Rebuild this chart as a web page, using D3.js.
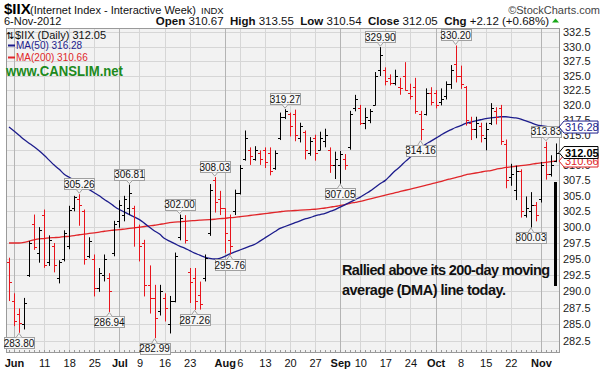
<!DOCTYPE html>
<html><head><meta charset="utf-8">
<script src="https://cdn.jsdelivr.net/npm/d3@7"></script>
<style>
body{margin:0;background:#fff;}
svg text{font-family:"Liberation Sans",Arial,sans-serif;}
</style>
</head><body>
<svg id="chart" width="605" height="375"></svg>
<script>
// ---------------- DATA ----------------
const dates = ["2012-05-31",
"2012-06-01","2012-06-04","2012-06-05","2012-06-06","2012-06-07","2012-06-08","2012-06-11","2012-06-12","2012-06-13","2012-06-14","2012-06-15","2012-06-18","2012-06-19","2012-06-20","2012-06-21","2012-06-22","2012-06-25","2012-06-26","2012-06-27","2012-06-28","2012-06-29",
"2012-07-02","2012-07-03","2012-07-05","2012-07-06","2012-07-09","2012-07-10","2012-07-11","2012-07-12","2012-07-13","2012-07-16","2012-07-17","2012-07-18","2012-07-19","2012-07-20","2012-07-23","2012-07-24","2012-07-25","2012-07-26","2012-07-27","2012-07-30","2012-07-31",
"2012-08-01","2012-08-02","2012-08-03","2012-08-06","2012-08-07","2012-08-08","2012-08-09","2012-08-10","2012-08-13","2012-08-14","2012-08-15","2012-08-16","2012-08-17","2012-08-20","2012-08-21","2012-08-22","2012-08-23","2012-08-24","2012-08-27","2012-08-28","2012-08-29","2012-08-30","2012-08-31",
"2012-09-04","2012-09-05","2012-09-06","2012-09-07","2012-09-10","2012-09-11","2012-09-12","2012-09-13","2012-09-14","2012-09-17","2012-09-18","2012-09-19","2012-09-20","2012-09-21","2012-09-24","2012-09-25","2012-09-26","2012-09-27","2012-09-28",
"2012-10-01","2012-10-02","2012-10-03","2012-10-04","2012-10-05","2012-10-08","2012-10-09","2012-10-10","2012-10-11","2012-10-12","2012-10-15","2012-10-16","2012-10-17","2012-10-18","2012-10-19","2012-10-22","2012-10-23","2012-10-24","2012-10-25","2012-10-26","2012-10-31",
"2012-11-01","2012-11-02","2012-11-05","2012-11-06"];

const opens = [294.5,
288.5,286.5,285.0,292.5,300.5,296.0,302.0,294.5,297.0,292.0,295.0,297.0,303.0,304.5,302.5,295.5,295.0,290.5,292.5,292.0,296.0,
301.0,302.0,303.0,303.0,300.0,297.5,291.0,289.0,287.0,289.0,285.0,288.5,298.5,301.0,293.0,292.0,289.5,292.0,299.0,307.5,304.5,
303.0,298.0,302.5,305.5,311.0,312.5,311.0,312.0,312.5,312.0,309.5,314.5,318.0,318.5,318.5,314.5,315.5,312.0,314.5,312.5,314.0,312.5,310.0,
310.0,311.0,313.0,319.5,319.5,317.0,317.5,320.0,326.0,326.0,324.5,323.8,323.0,325.0,322.0,323.0,318.5,318.5,322.0,
322.0,320.5,321.5,323.5,327.0,325.0,323.0,317.0,316.0,316.5,314.5,317.0,319.0,319.5,313.5,308.0,306.0,309.0,302.0,302.5,303.5,
304.5,313.0,308.5,310.67];
const highs = [295.2,
289.7,287.4,289.0,297.8,302.0,300.0,302.8,298.7,297.5,294.8,299.5,303.4,305.0,305.26,302.8,298.4,295.7,293.6,295.7,292.8,301.0,
304.3,305.0,306.81,303.4,300.4,298.0,294.0,291.0,291.0,289.7,289.3,296.0,302.0,301.9,293.6,293.6,291.5,295.7,306.9,308.03,305.8,
303.0,302.0,306.0,310.0,315.7,312.9,313.1,312.4,312.9,312.9,312.4,318.7,319.27,318.7,319.2,317.0,315.7,314.6,315.0,315.5,316.0,312.9,312.2,
312.3,311.8,319.0,321.7,320.0,319.5,319.3,325.6,329.9,326.4,325.2,326.0,324.6,327.3,323.6,324.6,319.0,322.8,323.0,
322.5,322.8,324.0,326.8,330.2,326.7,323.2,318.0,318.0,317.0,317.0,320.3,319.6,320.0,314.2,310.2,309.9,309.3,304.9,305.6,304.0,
310.5,313.83,311.6,313.55];
const lows = [288.6,
284.8,283.8,284.3,292.3,296.5,294.5,293.7,294.0,293.0,291.3,294.7,296.6,302.6,300.3,294.2,295.2,289.3,290.0,291.6,286.94,295.5,
300.0,301.0,302.0,297.0,294.7,289.3,286.7,282.99,286.4,285.5,283.7,288.4,298.0,297.5,288.3,287.26,287.3,291.6,298.7,302.4,302.0,
296.0,295.76,302.0,305.3,310.8,310.1,310.8,310.1,309.6,308.4,309.3,314.2,317.7,314.8,314.0,313.8,311.0,311.6,310.8,312.5,313.0,308.8,307.8,
307.05,309.3,312.6,319.0,316.7,316.0,317.0,320.0,325.0,323.4,323.4,323.4,321.8,322.5,321.0,318.6,314.16,318.3,320.0,
319.5,320.0,321.0,322.8,323.9,322.8,316.6,314.2,314.5,313.8,312.5,316.7,316.8,313.4,306.3,306.7,304.4,301.6,301.6,300.03,301.0,
304.0,307.7,308.2,310.54];
const closes = [291.5,
285.5,285.2,288.3,297.5,296.9,299.6,294.0,298.0,294.0,294.5,299.0,302.8,304.8,303.5,295.0,297.8,290.5,292.8,295.0,290.0,300.5,
303.5,304.5,305.5,300.0,297.0,291.0,289.0,286.0,290.0,287.5,288.5,295.5,301.5,298.0,291.5,288.5,288.0,295.2,306.0,304.0,303.0,
299.0,297.0,305.5,309.5,314.5,311.5,312.5,311.0,310.5,309.0,312.0,318.0,319.0,316.5,315.0,316.5,312.5,314.0,312.0,314.5,315.0,310.0,311.0,
311.8,310.0,318.5,321.0,317.0,318.0,319.0,325.0,328.5,324.0,323.8,325.0,322.8,322.6,321.5,319.0,316.0,322.0,320.5,
320.0,321.0,323.5,326.0,325.0,323.5,317.5,316.0,317.0,315.0,316.0,319.5,318.0,314.0,307.5,308.5,309.0,302.5,303.0,303.5,302.0,
310.0,308.5,309.93,312.05];
const closeBeforeFirst = 296.0;

const ma50 = [316.3,
315.6,314.9,314.2,313.6,313.0,312.35,311.6,310.8,310.0,309.3,308.5,308.0,307.5,307.0,306.5,306.0,305.5,305.0,304.4,303.9,303.3,
302.8,302.4,302.0,301.6,301.2,300.6,300.0,299.4,298.9,298.2,297.8,297.4,297.0,296.7,296.3,295.9,295.6,295.3,295.1,295.0,295.1,
295.4,295.8,296.1,296.4,296.7,297.0,297.3,297.8,298.3,298.8,299.3,299.8,300.1,300.4,300.7,301.0,301.3,301.5,301.8,302.0,302.2,302.5,302.8,
303.2,303.6,304.0,304.4,304.8,305.3,305.8,306.4,307.0,307.5,308.3,309.1,309.8,310.6,311.3,312.0,312.7,313.4,313.9,
314.4,314.9,315.4,315.8,316.2,316.5,316.9,317.1,317.3,317.5,317.7,317.8,317.9,318.0,318.0,317.9,317.8,317.6,317.3,317.0,316.7,
316.5,316.4,316.3,316.28];
const ma200 = [297.5,
297.5,297.5,297.6,297.8,298.0,298.15,298.2,298.3,298.35,298.4,298.5,298.55,298.65,298.8,298.9,299.0,299.1,299.2,299.35,299.45,299.55,
299.6,299.7,299.8,299.9,300.0,300.1,300.2,300.3,300.45,300.55,300.7,300.8,300.85,300.9,301.0,301.05,301.1,301.15,301.2,301.25,301.35,
301.4,301.5,301.55,301.65,301.75,301.85,301.95,302.05,302.15,302.25,302.35,302.45,302.55,302.6,302.65,302.7,302.75,302.8,302.85,302.95,303.05,303.2,303.3,
303.45,303.6,303.8,303.95,304.1,304.3,304.5,304.7,304.9,305.1,305.3,305.5,305.7,305.9,306.1,306.3,306.5,306.7,306.9,
307.1,307.3,307.55,307.75,307.95,308.15,308.4,308.55,308.7,308.85,309.0,309.1,309.3,309.45,309.6,309.7,309.8,309.9,310.0,310.1,310.25,
310.35,310.45,310.55,310.66];

const yTickValues = [282.5,285.0,287.5,290.0,292.5,295.0,297.5,300.0,302.5,305.0,307.5,310.0,312.5,315.0,317.5,320.0,322.5,325.0,327.5,330.0,332.5];
const xTickDates  = ["2012-06-01","2012-06-11","2012-06-18","2012-06-25","2012-07-02","2012-07-09","2012-07-16","2012-07-23","2012-08-01","2012-08-06","2012-08-13","2012-08-20","2012-08-27","2012-09-04","2012-09-10","2012-09-17","2012-09-24","2012-10-01","2012-10-08","2012-10-15","2012-10-22","2012-11-01"];
const xTickLabels = ["Jun","11","18","25","Jul","9","16","23","Aug","6","13","20","27","Sep","10","17","24","Oct","8","15","22","Nov"];

const calloutDates = ["2012-06-04","2012-06-20","2012-06-28","2012-07-05","2012-07-12","2012-07-19","2012-07-24","2012-07-30","2012-08-02","2012-08-17","2012-09-04","2012-09-14","2012-09-26","2012-10-05","2012-10-26","2012-11-02"];
const calloutKinds = ["low","high","low","high","low","high","low","high","low","high","low","high","low","high","low","high"];

const lastClose = 312.05, lastMA50 = 316.28, lastMA200 = 310.66;

// ---------------- CHART ----------------
const svg = d3.select("#chart");
const W = 605, H = 375;
const plot = {left: 6, top: 28, right: 560, bottom: 353};
const RED = "#e8141c", NAVY = "#1c1c8c", MA_RED = "#e0262a";

const x = d3.scalePoint().domain(dates).range([9, 556]);
const y = d3.scaleLog().domain([282.5, 332.5]).range([341, 32.3]);
const px = v => Math.round(v) + 0.5;

svg.append("rect").attr("width", W).attr("height", H).attr("fill", "#fff");

// header
const hdr = svg.append("g");
hdr.append("text").attr("x", 4).attr("y", 14).attr("font-size", 15).attr("font-weight", "bold").text("$IIX");
hdr.append("text").attr("x", 30).attr("y", 14).attr("font-size", 11.5).attr("textLength", 166).attr("lengthAdjust", "spacingAndGlyphs").attr("fill", "#111").text("(Internet Index - Interactive Week)");
hdr.append("text").attr("x", 201).attr("y", 14).attr("font-size", 9.5).attr("fill", "#111").text("INDX");
hdr.append("text").attr("x", 600).attr("y", 14).attr("font-size", 11).attr("text-anchor", "end").attr("fill", "#444").text("\u00A9StockCharts.com");
hdr.append("text").attr("x", 4).attr("y", 24.5).attr("font-size", 11).attr("fill", "#111").text("6-Nov-2012");
const ohlc = hdr.append("text").attr("x", 549).attr("y", 24.5).attr("font-size", 11.5).attr("text-anchor", "end").attr("fill", "#111");
[["Open", true], [" 310.67  ", false], ["High", true], [" 313.55  ", false], ["Low", true], [" 310.54  ", false],
 ["Close", true], [" 312.05  ", false], ["Chg", true], [" +2.12 (+0.68%)", false]].forEach(([t, b]) => {
  ohlc.append("tspan").attr("font-weight", b ? "bold" : "normal").attr("xml:space", "preserve").text(t);
});
hdr.append("path").attr("d", "M552,22.5 L559,22.5 L555.5,18.5 Z").attr("fill", "#18a818");

// plot background
svg.append("rect").attr("x", plot.left).attr("y", plot.top)
  .attr("width", plot.right - plot.left).attr("height", plot.bottom - plot.top)
  .attr("fill", "#f2f2f2");

// horizontal grid
svg.append("g").selectAll("line").data(yTickValues).join("line")
  .attr("x1", plot.left).attr("x2", plot.right)
  .attr("y1", d => px(y(d))).attr("y2", d => px(y(d)))
  .attr("stroke", "#d6d6d6").attr("stroke-width", 1);

// vertical grid
svg.append("g").selectAll("line").data(xTickDates).join("line")
  .attr("x1", d => px(x(d))).attr("x2", d => px(x(d)))
  .attr("y1", plot.top).attr("y2", plot.bottom)
  .attr("stroke", (d, i) => /^[A-Z]/.test(xTickLabels[i]) ? "#b4b4b4" : "#d6d6d6").attr("stroke-width", 1);

// frame
svg.append("rect").attr("x", plot.left + 0.5).attr("y", plot.top + 0.5)
  .attr("width", plot.right - plot.left - 1).attr("height", plot.bottom - plot.top - 1)
  .attr("fill", "none").attr("stroke", "#9a9a9a");

// minor ticks at bottom per bar
svg.append("g").selectAll("line").data(dates).join("line")
  .attr("x1", d => px(x(d))).attr("x2", d => px(x(d)))
  .attr("y1", plot.bottom - 3).attr("y2", plot.bottom)
  .attr("stroke", "#999");

// y axis labels
const yAxis = d3.axisRight(y).tickValues(yTickValues).tickFormat(d3.format(".1f")).tickSize(0).tickPadding(0);
const gy = svg.append("g").attr("transform", `translate(${plot.right + 3},0)`).call(yAxis);
gy.select(".domain").remove();
gy.selectAll("text").attr("font-size", 11).attr("fill", "#222").attr("font-family", "Liberation Sans, Arial, sans-serif");

// x axis labels
const xAxis = d3.axisBottom(x).tickValues(xTickDates).tickFormat((d, i) => xTickLabels[i]).tickSize(0).tickPadding(0);
const gx = svg.append("g").attr("transform", `translate(0,${plot.bottom + 6})`).call(xAxis);
gx.select(".domain").remove();
gx.selectAll("text").attr("font-size", 11).attr("fill", "#111")
  .attr("font-family", "Liberation Sans, Arial, sans-serif")
  .attr("font-weight", (d, i) => /^[A-Z]/.test(xTickLabels[i]) ? "bold" : "normal");

// moving averages
const line = d3.line().x((d, i) => x(dates[i])).y(d => y(d)).curve(d3.curveMonotoneX);
svg.append("path").attr("d", line(ma200)).attr("fill", "none").attr("stroke", MA_RED).attr("stroke-width", 1.3);
svg.append("path").attr("d", line(ma50)).attr("fill", "none").attr("stroke", NAVY).attr("stroke-width", 1.3);

// OHLC bars
const bars = svg.append("g");
dates.forEach((d, i) => {
  const prev = i === 0 ? closeBeforeFirst : closes[i - 1];
  const col = closes[i] >= prev ? "#000" : RED;
  const cx = px(x(d));
  const g = bars.append("g").attr("stroke", col).attr("stroke-width", 1);
  g.append("line").attr("x1", cx).attr("x2", cx).attr("y1", y(highs[i])).attr("y2", y(lows[i]) + 0.5);
  g.append("line").attr("x1", cx - 2.5).attr("x2", cx).attr("y1", px(y(opens[i]))).attr("y2", px(y(opens[i])));
  g.append("line").attr("x1", cx).attr("x2", cx + 2.5).attr("y1", px(y(closes[i]))).attr("y2", px(y(closes[i])));
});

// callouts
const co = svg.append("g");
calloutDates.forEach((d, k) => {
  const i = dates.indexOf(d);
  const isHigh = calloutKinds[k] === "high";
  const v = isHigh ? highs[i] : lows[i];
  const cx = x(d), cy = y(v);
  const bw = 30, bh = 11;
  const by = isHigh ? cy - 5 - bh : cy + 5;
  const g = co.append("g");
  g.append("rect").attr("x", Math.round(cx - bw / 2) + 0.5).attr("y", Math.round(by) + 0.5)
    .attr("width", bw).attr("height", bh).attr("fill", "#f7f7f7").attr("stroke", "#a0a0a0");
  const tipY = isHigh ? by + bh : by;
  g.append("path").attr("d", `M${cx - 3},${Math.round(tipY) + 0.5} L${cx},${cy + (isHigh ? -1 : 1)} L${cx + 3},${Math.round(tipY) + 0.5}`)
    .attr("fill", "#f7f7f7").attr("stroke", "#a0a0a0");
  g.append("text").attr("x", cx).attr("y", by + 9.5).attr("text-anchor", "middle")
    .attr("font-size", 10).attr("fill", "#111").text(v.toFixed(2));
});

// legend
const lg = svg.append("g");
lg.append("text").attr("x", 6).attr("y", 39).attr("font-size", 10).attr("font-family", "DejaVu Sans").text("\u21C5");
lg.append("text").attr("x", 15).attr("y", 39).attr("font-size", 11).attr("font-family", "DejaVu Sans").attr("fill", "#111").text("$IIX (Daily) 312.05");
lg.append("line").attr("x1", 8).attr("x2", 15).attr("y1", 45.5).attr("y2", 45.5).attr("stroke", NAVY).attr("stroke-width", 2);
lg.append("text").attr("x", 16).attr("y", 49).attr("font-size", 10).attr("fill", NAVY).text("MA(50) " + lastMA50.toFixed(2));
lg.append("line").attr("x1", 8).attr("x2", 15).attr("y1", 57.5).attr("y2", 57.5).attr("stroke", MA_RED).attr("stroke-width", 2);
lg.append("text").attr("x", 16).attr("y", 61).attr("font-size", 10).attr("fill", MA_RED).text("MA(200) " + lastMA200.toFixed(2));
lg.append("text").attr("x", 6).attr("y", 76).attr("font-size", 14.5).attr("font-weight", "bold").attr("textLength", 117).attr("lengthAdjust", "spacingAndGlyphs").attr("fill", "#1d8a1d").text("www.CANSLIM.net");

// annotation
const an = svg.append("g");
an.append("text").attr("x", 342).attr("y", 275).attr("font-size", 14.5).attr("font-weight", "bold").attr("textLength", 208).attr("fill", "#111").text("Rallied above its 200-day moving");
an.append("text").attr("x", 342).attr("y", 295).attr("font-size", 14.5).attr("font-weight", "bold").attr("textLength", 164).attr("fill", "#111").text("average (DMA) line today.");
an.append("line").attr("x1", px(x(dates[dates.length - 1])) - 1).attr("x2", px(x(dates[dates.length - 1])) - 1)
  .attr("y1", 182).attr("y2", 286).attr("stroke", "#000").attr("stroke-width", 3);

// right-side value tags
function tag(v, col, bold, dy) {
  const ty = y(v) + (dy || 0);
  const g = svg.append("g");
  g.append("path").attr("d", `M${plot.right - 1},${ty} L${plot.right + 4},${ty - 6} L${plot.right + 38},${ty - 6} L${plot.right + 38},${ty + 6} L${plot.right + 4},${ty + 6} Z`)
    .attr("fill", "#fff").attr("stroke", col);
  g.append("text").attr("x", plot.right + 5).attr("y", ty + 4).attr("font-size", 11).attr("font-weight", bold ? "bold" : "normal").attr("fill", col).text(v.toFixed(2));
}
tag(lastMA50, NAVY, false, 0);
tag(lastMA200, MA_RED, false, 0);
tag(lastClose, "#000", true, 0);
</script>
</body></html>
